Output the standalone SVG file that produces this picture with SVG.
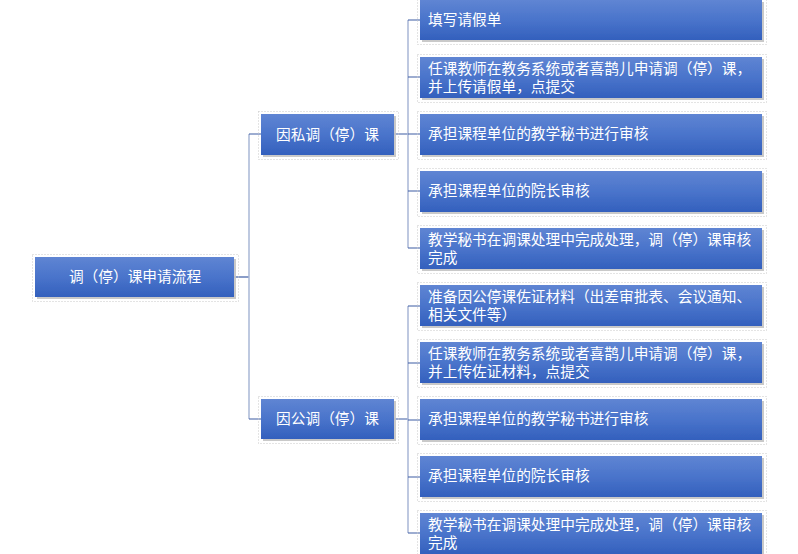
<svg xmlns="http://www.w3.org/2000/svg" width="798" height="554" viewBox="0 0 798 554">
<defs>
<linearGradient id="g" x1="0" y1="0" x2="0" y2="1">
<stop offset="0" stop-color="#5f85d3"/>
<stop offset="0.5" stop-color="#4a74cb"/>
<stop offset="1" stop-color="#3360bd"/>
</linearGradient>
<filter id="sh" x="-5%" y="-10%" width="115%" height="130%">
<feOffset dx="2" dy="2" in="SourceAlpha" result="o"/>
<feColorMatrix in="o" type="matrix" values="0 0 0 0 0.55 0 0 0 0 0.55 0 0 0 0 0.55 0 0 0 0.9 0"/>
<feMerge><feMergeNode/><feMergeNode in="SourceGraphic"/></feMerge>
</filter>
</defs>
<style>
.box{fill:url(#g);filter:url(#sh)}
.frame{fill:none;stroke:#c8c8c8;stroke-width:1;stroke-dasharray:1 2}
.t{font-family:"Liberation Sans","Noto Sans CJK SC",sans-serif;font-size:14.7px;fill:#ffffff}
.c{text-anchor:middle;dominant-baseline:central}
.h{stroke:#3c5ca4;stroke-width:1.2;fill:none}
.v{stroke:#a9b7d6;stroke-width:1.5;fill:none}
</style>
<g id="connectors">
<path class="h" d="M234 277H249"/>
<path class="v" d="M249 134V419"/>
<path class="h" d="M249 134H261M249 419H261"/>
<path class="h" d="M394 134H408M394 419H408"/>
<path class="v" d="M408 20V248M408 306V533"/>
<path class="h" d="M408 20H420M408 77H420M408 134H420M408 191H420M408 248H420"/>
<path class="h" d="M408 306H420M408 363H420M408 420H420M408 477H420M408 533H420"/>
</g>
<g id="root">
<rect class="frame" x="32.5" y="254.5" width="206" height="47"/>
<rect class="box" x="35" y="257" width="199" height="40"/>
<text class="t c" x="135" y="277">调（停）课申请流程</text>
</g>
<g id="private">
<rect class="frame" x="258.5" y="111.5" width="140" height="48"/>
<rect class="box" x="261" y="114" width="133" height="41"/>
<text class="t c" x="327.5" y="134.5">因私调（停）课</text>
</g>
<g id="public">
<rect class="frame" x="258.5" y="396.5" width="140" height="47"/>
<rect class="box" x="261" y="399" width="133" height="40"/>
<text class="t c" x="327.5" y="419">因公调（停）课</text>
</g>
<g id="p1">
<rect class="frame" x="417.5" y="-2.5" width="349" height="47"/>
<rect class="box" x="420" y="0" width="342" height="40"/>
<text class="t" x="428" y="25">填写请假单</text>
</g>
<g id="p2">
<rect class="frame" x="417.5" y="54.5" width="349" height="48"/>
<rect class="box" x="420" y="57" width="342" height="41"/>
<text class="t" x="428" y="74">任课教师在教务系统或者喜鹊儿申请调（停）课，<tspan x="428" dy="18">并上传请假单，点提交</tspan></text>
</g>
<g id="p3">
<rect class="frame" x="417.5" y="111.5" width="349" height="48"/>
<rect class="box" x="420" y="114" width="342" height="41"/>
<text class="t" x="428" y="139">承担课程单位的教学秘书进行审核</text>
</g>
<g id="p4">
<rect class="frame" x="417.5" y="168.5" width="349" height="48"/>
<rect class="box" x="420" y="171" width="342" height="41"/>
<text class="t" x="428" y="196">承担课程单位的院长审核</text>
</g>
<g id="p5">
<rect class="frame" x="417.5" y="225.5" width="349" height="48"/>
<rect class="box" x="420" y="228" width="342" height="41"/>
<text class="t" x="428" y="245">教学秘书在调课处理中完成处理，调（停）课审核<tspan x="428" dy="18">完成</tspan></text>
</g>
<g id="q1">
<rect class="frame" x="417.5" y="282.5" width="349" height="48"/>
<rect class="box" x="420" y="285" width="342" height="41"/>
<text class="t" x="428" y="302">准备因公停课佐证材料（出差审批表、会议通知、<tspan x="428" dy="18">相关文件等）</tspan></text>
</g>
<g id="q2">
<rect class="frame" x="417.5" y="339.5" width="349" height="48"/>
<rect class="box" x="420" y="342" width="342" height="41"/>
<text class="t" x="428" y="359">任课教师在教务系统或者喜鹊儿申请调（停）课，<tspan x="428" dy="18">并上传佐证材料，点提交</tspan></text>
</g>
<g id="q3">
<rect class="frame" x="417.5" y="396.5" width="349" height="48"/>
<rect class="box" x="420" y="399" width="342" height="41"/>
<text class="t" x="428" y="424">承担课程单位的教学秘书进行审核</text>
</g>
<g id="q4">
<rect class="frame" x="417.5" y="453.5" width="349" height="48"/>
<rect class="box" x="420" y="456" width="342" height="41"/>
<text class="t" x="428" y="481">承担课程单位的院长审核</text>
</g>
<g id="q5">
<rect class="frame" x="417.5" y="510.5" width="349" height="48"/>
<rect class="box" x="420" y="513" width="342" height="41"/>
<text class="t" x="428" y="530">教学秘书在调课处理中完成处理，调（停）课审核<tspan x="428" dy="18">完成</tspan></text>
</g>
</svg>
